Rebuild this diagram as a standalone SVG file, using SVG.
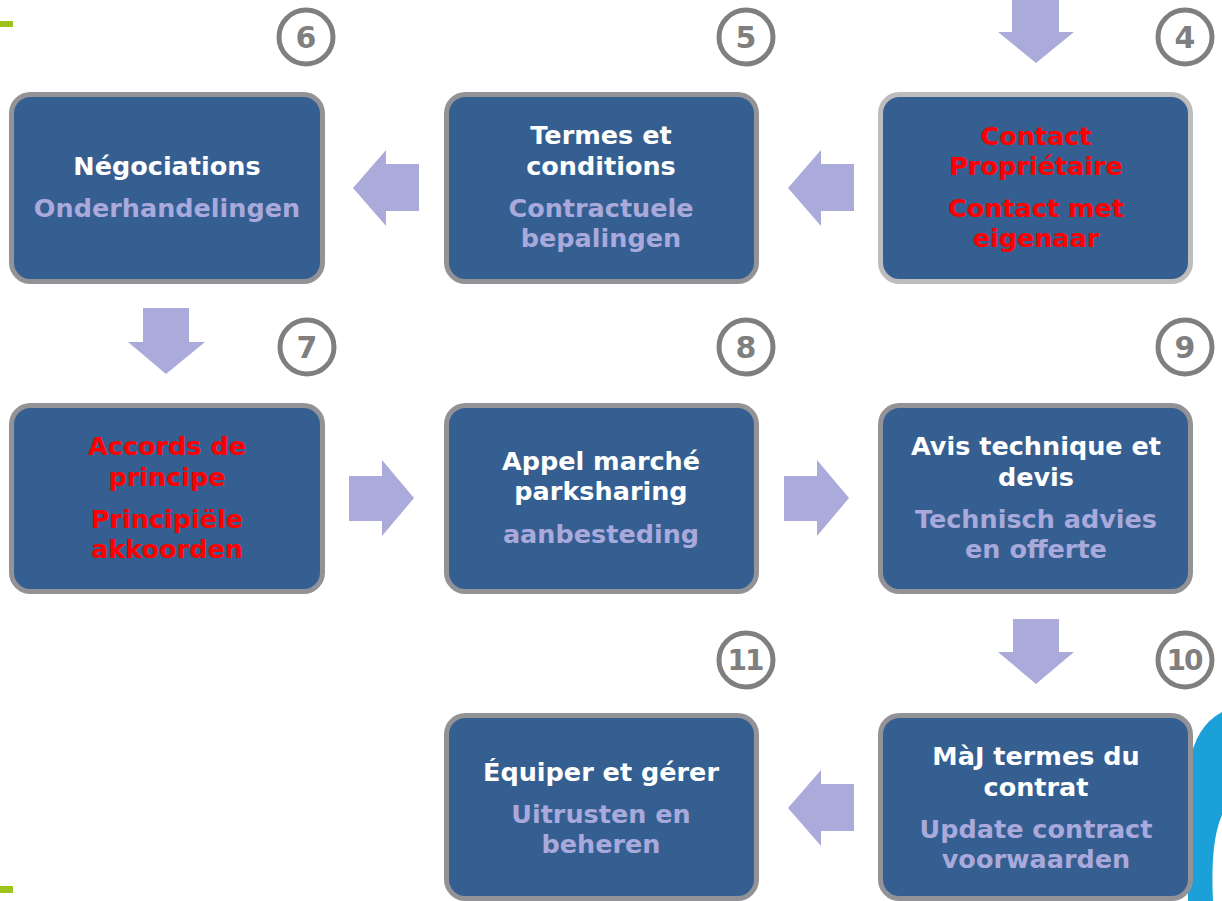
<svg xmlns="http://www.w3.org/2000/svg" width="1222" height="901" viewBox="0 0 1222 901">
<style>
.box{fill:#365F91;stroke:#939397;stroke-width:5}
.box.light{stroke:#BDBDBD}
.arr{fill:#ABABDB}
.t{font-family:"DejaVu Sans",Verdana,sans-serif;font-weight:bold;font-size:25.5px;text-anchor:middle}
.fr{fill:#FFFFFF}
.nl{fill:#A9A9DC}
.red{fill:#FF0000}
.num circle{fill:#FFFFFF;stroke:#7F7F7F;stroke-width:5}
.num text{font-family:"DejaVu Sans",Verdana,sans-serif;font-weight:bold;font-size:30px;fill:#7F7F7F;text-anchor:middle}
.num text.two{font-size:28px;letter-spacing:-2px}
</style>
<rect width="1222" height="901" fill="#FFFFFF"/>
<rect x="0" y="21" width="13" height="6" fill="#9DC41A"/>
<rect x="0" y="886" width="13" height="7" fill="#9DC41A"/>
<g id="logo">
<path d="M1188,901 L1188,775 Q1192,728 1222,712 L1222,901 Z" fill="#1BA1D8"/>
<path d="M1222,815 Q1210,842 1213,901 L1222,901 Z" fill="#FFFFFF"/>
</g>
<g id="connectors">
<path class="arr" d="M1012,0 L1059,0 L1059,32 L1074,32 L1036,63 L998,32 L1012,32 Z"/>
<path class="arr" d="M854,164 L854,211 L821,211 L821,226 L788,188 L821,150 L821,164 Z"/>
<path class="arr" d="M419,164 L419,211 L386,211 L386,226 L353,188 L386,150 L386,164 Z"/>
<path class="arr" d="M143,308 L189,308 L189,342 L205,342 L166,374 L128,342 L143,342 Z"/>
<path class="arr" d="M349,476 L382,476 L382,460 L414,498 L382,536 L382,521 L349,521 Z"/>
<path class="arr" d="M784,476 L817,476 L817,460 L849,498 L817,536 L817,521 L784,521 Z"/>
<path class="arr" d="M1013,619 L1059,619 L1059,652 L1074,652 L1036,684 L998,652 L1013,652 Z"/>
<path class="arr" d="M854,784 L854,831 L821,831 L821,846 L788,808 L821,770 L821,784 Z"/>
</g>
<g id="node4">
<rect class="box light" x="880.5" y="94.5" width="310" height="187" rx="19"/>
<text class="t red" x="1036" y="145">Contact</text>
<text class="t red" x="1036" y="175">Propriétaire</text>
<text class="t red" x="1036" y="217">Contact met</text>
<text class="t red" x="1036" y="247">eigenaar</text>
<g class="num"><circle cx="1185" cy="37" r="27"/><text x="1185" y="48">4</text></g>
</g>
<g id="node5">
<rect class="box" x="446.5" y="94.5" width="310" height="187" rx="19"/>
<text class="t fr" x="601" y="144">Termes et</text>
<text class="t fr" x="601" y="175">conditions</text>
<text class="t nl" x="601" y="217">Contractuele</text>
<text class="t nl" x="601" y="247">bepalingen</text>
<g class="num"><circle cx="746" cy="37" r="27"/><text x="746" y="48">5</text></g>
</g>
<g id="node6">
<rect class="box" x="11.5" y="94.5" width="311" height="187" rx="19"/>
<text class="t fr" x="167" y="175">Négociations</text>
<text class="t nl" x="167" y="217">Onderhandelingen</text>
<g class="num"><circle cx="306" cy="37" r="27"/><text x="306" y="48">6</text></g>
</g>
<g id="node7">
<rect class="box" x="11.5" y="405.5" width="311" height="186" rx="19"/>
<text class="t red" x="167" y="455">Accords de</text>
<text class="t red" x="167" y="486">principe</text>
<text class="t red" x="167" y="528">Principiële</text>
<text class="t red" x="167" y="558">akkoorden</text>
<g class="num"><circle cx="307" cy="347" r="27"/><text x="307" y="358">7</text></g>
</g>
<g id="node8">
<rect class="box" x="446.5" y="405.5" width="310" height="186" rx="19"/>
<text class="t fr" x="601" y="470">Appel marché</text>
<text class="t fr" x="601" y="500">parksharing</text>
<text class="t nl" x="601" y="543">aanbesteding</text>
<g class="num"><circle cx="746" cy="347" r="27"/><text x="746" y="358">8</text></g>
</g>
<g id="node9">
<rect class="box" x="880.5" y="405.5" width="310" height="186" rx="19"/>
<text class="t fr" x="1036" y="455">Avis technique et</text>
<text class="t fr" x="1036" y="486">devis</text>
<text class="t nl" x="1036" y="528">Technisch advies</text>
<text class="t nl" x="1036" y="558">en offerte</text>
<g class="num"><circle cx="1185" cy="347" r="27"/><text x="1185" y="358">9</text></g>
</g>
<g id="node10">
<rect class="box" x="880.5" y="715.5" width="310" height="183" rx="19"/>
<text class="t fr" x="1036" y="765">MàJ termes du</text>
<text class="t fr" x="1036" y="796">contrat</text>
<text class="t nl" x="1036" y="838">Update contract</text>
<text class="t nl" x="1036" y="868">voorwaarden</text>
<g class="num"><circle cx="1185" cy="660" r="27"/><text class="two" x="1184" y="670">10</text></g>
</g>
<g id="node11">
<rect class="box" x="446.5" y="715.5" width="310" height="183" rx="19"/>
<text class="t fr" x="601" y="781">Équiper et gérer</text>
<text class="t nl" x="601" y="823">Uitrusten en</text>
<text class="t nl" x="601" y="853">beheren</text>
<g class="num"><circle cx="746" cy="660" r="27"/><text class="two" x="745" y="670">11</text></g>
</g>
</svg>
